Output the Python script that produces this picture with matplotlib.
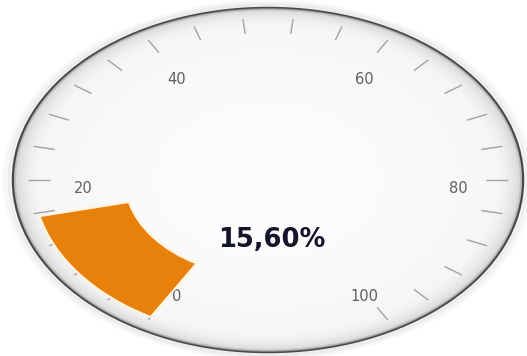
import matplotlib

matplotlib.use("Agg")

import matplotlib.pyplot as plt
import numpy as np
from matplotlib.patches import Circle, Wedge

# gauge data
gauge_value = 15.6
gauge_min = 0
gauge_max = 100
major_values = [0, 20, 40, 60, 80, 100]
major_labels = ["0", "20", "40", "60", "80", "100"]
tick_step = 4
value_text = "15,60%"

# dial geometry (unit circle, stretched by the axes limits)
start_angle = 240.0
sweep = 300.0
centre_px = (268.0, 180.0)
radius_px = (255.0, 172.0)
width_px, height_px = 527, 356


def value_to_angle(value: float) -> float:
    return start_angle - sweep * (value - gauge_min) / (gauge_max - gauge_min)


figure = plt.figure(figsize=(width_px / 100, height_px / 100), dpi=100)
figure.patch.set_facecolor("white")
axes = figure.add_axes([0, 0, 1, 1])
axes.set_xlim(-centre_px[0] / radius_px[0], (width_px - centre_px[0]) / radius_px[0])
axes.set_ylim(-(height_px - centre_px[1]) / radius_px[1], centre_px[1] / radius_px[1])
axes.set_aspect("auto")
axes.axis("off")

# soft shadow around the dial
for spread, alpha in [(0.035, 0.05), (0.022, 0.08), (0.012, 0.12)]:
    axes.add_patch(
        Circle((0, 0), 1 + spread, facecolor="none", edgecolor="#9a9a9a",
               linewidth=3, alpha=alpha, zorder=1)
    )

# radial shading of the dial face
x0, x1 = axes.get_xlim()
y0, y1 = axes.get_ylim()
grid_x, grid_y = np.meshgrid(np.linspace(x0, x1, 600), np.linspace(y0, y1, 420))
radius = np.hypot(grid_x, grid_y)
rim = np.clip((radius - 0.88) / 0.12, 0, 1)
shade = 0.99 - 0.03 * radius**2 - 0.13 * rim**2.2
shade = np.clip(shade, 0, 1)
face = np.dstack([shade, shade, shade])
image = axes.imshow(face, extent=(x0, x1, y0, y1), origin="lower",
                    aspect="auto", interpolation="bilinear", zorder=2)
dial = Circle((0, 0), 1.0, transform=axes.transData)
image.set_clip_path(dial)

# outer rim
axes.add_patch(Circle((0, 0), 1.0, facecolor="none", edgecolor="#4a4a4a",
                      linewidth=1.8, zorder=3))
axes.add_patch(Circle((0, 0), 0.992, facecolor="none", edgecolor="#b8b8b8",
                      linewidth=1.5, alpha=0.7, zorder=3))

# tick marks
for value in np.arange(gauge_min, gauge_max + tick_step, tick_step):
    angle = np.radians(value_to_angle(value))
    inner, outer = 0.855, 0.94
    axes.plot([inner * np.cos(angle), outer * np.cos(angle)],
              [inner * np.sin(angle), outer * np.sin(angle)],
              color="#a2a2a2", linewidth=1.0, solid_capstyle="butt", zorder=4)

# major labels
for value, label in zip(major_values, major_labels):
    angle = np.radians(value_to_angle(value))
    axes.text(0.735 * np.cos(angle) + 0.01, 0.73 * np.sin(angle) - 0.047, label,
              ha="center", va="center", fontsize=10.5, color="#5f5f5f", zorder=5)

# value band
band = Wedge((0, 0), 0.92, value_to_angle(gauge_value), value_to_angle(gauge_min),
             width=0.36, facecolor="#e8800c", edgecolor="#fff3dc",
             linewidth=1.5, zorder=6)
axes.add_patch(band)

axes.text(0.015, -0.35, value_text, ha="center", va="center", fontsize=18.5,
          fontweight="bold", color="#14142a", zorder=7)

figure.savefig("out.png", dpi=100, facecolor="white")
